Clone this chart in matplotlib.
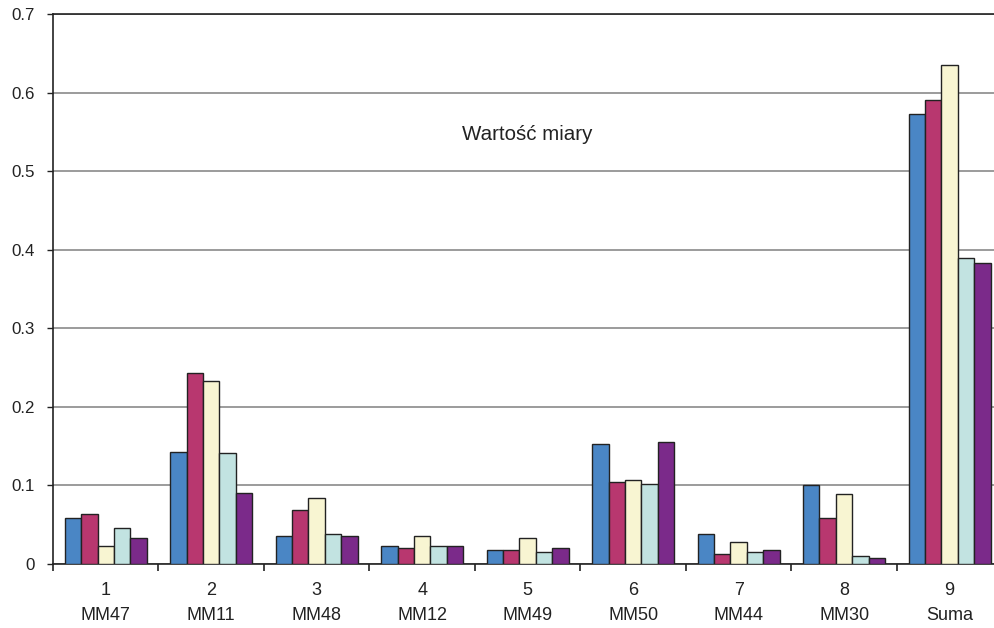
import numpy as np
import matplotlib
matplotlib.use("Agg")
import matplotlib.pyplot as plt
from matplotlib.ticker import FixedLocator, NullFormatter

plt.rcParams['font.family'] = ['Liberation Sans', 'DejaVu Sans']

groups = ["1", "2", "3", "4", "5", "6", "7", "8", "9"]
names = ["MM47", "MM11", "MM48", "MM12", "MM49", "MM50", "MM44", "MM30", "Suma"]

s1 = [0.059, 0.143, 0.036, 0.023, 0.018, 0.153, 0.038, 0.101, 0.573]
s2 = [0.064, 0.243, 0.069, 0.020, 0.018, 0.104, 0.013, 0.059, 0.591]
s3 = [0.023, 0.233, 0.084, 0.036, 0.033, 0.107, 0.028, 0.089, 0.635]
s4 = [0.046, 0.141, 0.038, 0.023, 0.015, 0.102, 0.015, 0.010, 0.390]
s5 = [0.033, 0.090, 0.036, 0.023, 0.020, 0.155, 0.018, 0.008, 0.383]

series = [s1, s2, s3, s4, s5]
colors = ["#4a86c5", "#b8376f", "#f8f5d2", "#c2e3e1", "#7b2a8a"]

fig = plt.figure(figsize=(9.94, 6.28), dpi=100)
ax = fig.add_axes([53 / 994, 64 / 628, (1002.4 - 53) / 994, 550 / 628])

x = np.arange(len(groups))
bw = 0.156
for i, (vals, c) in enumerate(zip(series, colors)):
    ax.bar(x + (i - 2) * bw, vals, width=bw, color=c, edgecolor="#222222",
           linewidth=1.0, zorder=3)

ax.set_xlim(-0.5, len(groups) - 0.5)
ax.set_ylim(0, 0.7)
ax.set_yticks(np.arange(0, 0.71, 0.1))
ax.set_yticklabels(["0"] + [f"{v:.1f}" for v in np.arange(0.1, 0.71, 0.1)])
ax.yaxis.grid(True, color="#8a8a8a", linewidth=1.2, zorder=0)

ax.set_xticks(x)
ax.set_xticklabels([f"{g}\n{n}" for g, n in zip(groups, names)],
                   linespacing=1.6)
ax.xaxis.set_minor_locator(FixedLocator(np.arange(-0.5, len(groups), 1.0)))
ax.xaxis.set_minor_formatter(NullFormatter())
ax.tick_params(axis="x", which="major", length=0, pad=13, labelsize=13,
               colors="#222222")
ax.tick_params(axis="x", which="minor", length=5, width=1.2, color="#222222")
ax.tick_params(axis="y", length=4.3, width=1.0, labelsize=12.2,
               colors="#222222", pad=8.5)

for side in ["left", "bottom", "top"]:
    ax.spines[side].set_color("#222222")
    ax.spines[side].set_linewidth(1.2)
ax.spines["right"].set_visible(False)

# caption inside the plot area, positioned in figure pixels
fig.text(527.5 / 994, 1 - 135 / 628, "Wartość miary", fontsize=14.8,
         ha="center", va="center", color="#222222")

fig.savefig("out.png", dpi=100)
